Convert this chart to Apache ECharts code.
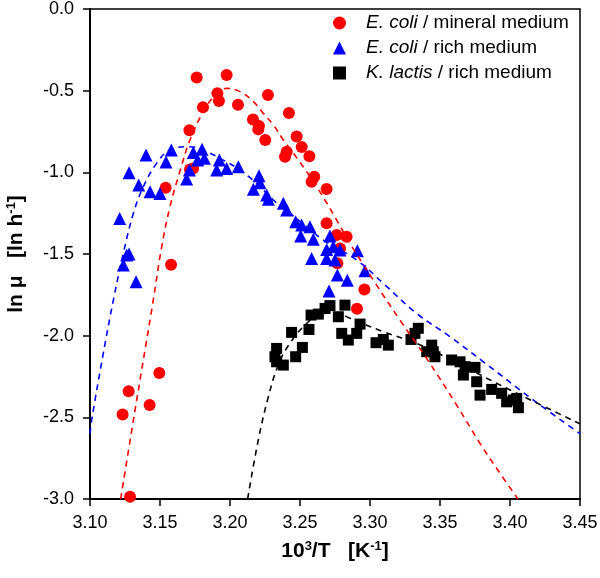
<!DOCTYPE html>
<html>
<head>
<meta charset="utf-8">
<script src="https://cdn.jsdelivr.net/npm/echarts@6/dist/echarts.min.js"></script>
<style>html,body{margin:0;padding:0;background:#fff}#c{width:600px;height:578px}</style>
</head>
<body>
<div id="c"></div>
<script>
// ---- data ----
const xTicks = [3.10, 3.15, 3.20, 3.25, 3.30, 3.35, 3.40, 3.45];
const yTicks = [0.0, -0.5, -1.0, -1.5, -2.0, -2.5, -3.0];

const ecoliMineral = [
  [3.1286,-2.986],[3.1233,-2.482],[3.1276,-2.341],[3.1426,-2.425],[3.1495,-2.229],
  [3.1579,-1.566],[3.1540,-1.094],[3.1714,-0.983],[3.1736,-0.976],[3.1710,-0.743],
  [3.1807,-0.602],[3.1762,-0.420],[3.1976,-0.404],[3.1910,-0.516],[3.1921,-0.563],
  [3.2057,-0.586],[3.2271,-0.527],[3.2164,-0.676],[3.2207,-0.716],[3.2202,-0.737],
  [3.2252,-0.802],[3.2421,-0.637],[3.2476,-0.780],[3.2512,-0.845],[3.2405,-0.874],
  [3.2393,-0.904],[3.2567,-0.902],[3.2602,-1.027],[3.2583,-1.057],[3.2690,-1.102],
  [3.2690,-1.312],[3.2762,-1.384],[3.2833,-1.394],[3.2786,-1.466],[3.2767,-1.557],
  [3.2960,-1.717],[3.2907,-1.835]
];
const ecoliRich = [
  [3.1212,-1.282],[3.1262,-1.506],[3.1279,-1.500],[3.1238,-1.568],[3.1329,-1.670],
  [3.1279,-1.002],[3.1348,-1.078],[3.1400,-0.894],[3.1429,-1.119],[3.1500,-1.129],
  [3.1543,-0.937],[3.1581,-0.863],[3.1690,-1.041],[3.1710,-0.986],[3.1738,-0.878],
  [3.1800,-0.859],[3.1769,-0.925],[3.1817,-0.914],[3.1924,-0.925],[3.1905,-0.986],
  [3.1976,-0.976],[3.2060,-0.966],[3.2207,-1.021],[3.2214,-1.064],[3.2167,-1.104],
  [3.2262,-1.139],[3.2274,-1.165],[3.2381,-1.190],[3.2405,-1.231],[3.2469,-1.302],
  [3.2512,-1.323],[3.2571,-1.333],[3.2505,-1.390],[3.2595,-1.410],[3.2714,-1.390],
  [3.2690,-1.472],[3.2738,-1.456],[3.2786,-1.476],[3.2583,-1.527],[3.2690,-1.527],
  [3.2750,-1.537],[3.2910,-1.480],[3.2964,-1.603],[3.2767,-1.629],[3.2838,-1.660],
  [3.2707,-1.726]
];
const klactisRich = [
  [3.2333,-2.078],[3.2321,-2.129],[3.2333,-2.160],[3.2381,-2.180],[3.2469,-2.129],
  [3.2517,-2.072],[3.2440,-1.980],[3.2564,-1.962],[3.2579,-1.874],[3.2631,-1.868],
  [3.2679,-1.833],[3.2714,-1.816],[3.2821,-1.813],[3.2774,-1.884],[3.2929,-1.929],
  [3.2905,-1.986],[3.2845,-2.027],[3.2798,-1.986],[3.3043,-2.043],[3.3095,-2.023],
  [3.3131,-2.058],[3.3345,-1.955],[3.3321,-1.986],[3.3293,-2.023],[3.3441,-2.058],
  [3.3452,-2.098],[3.3405,-2.098],[3.3464,-2.129],[3.3583,-2.149],[3.3643,-2.160],
  [3.3679,-2.190],[3.3750,-2.194],[3.3667,-2.241],[3.3762,-2.282],[3.3786,-2.364],
  [3.3869,-2.329],[3.3940,-2.353],[3.3976,-2.405],[3.4048,-2.384],[3.4060,-2.441],
  [3.4024,-2.394]
];

const fitMineral = [
  [3.1219,-3.0],[3.1310,-2.517],[3.1381,-2.149],[3.1452,-1.782],[3.1512,-1.456],
  [3.1571,-1.211],[3.1638,-1.006],[3.1714,-0.802],[3.1810,-0.629],[3.1905,-0.516],
  [3.1976,-0.486],[3.2071,-0.506],[3.2167,-0.567],[3.2238,-0.639],[3.2310,-0.710],
  [3.2381,-0.802],[3.2476,-0.910],[3.2619,-1.088],[3.2762,-1.292],[3.2857,-1.435],
  [3.3024,-1.660],[3.3214,-1.905],[3.3405,-2.140],[3.3619,-2.425],[3.3786,-2.660],
  [3.3929,-2.843],[3.4057,-3.0]
];
const fitRich = [
  [3.1000,-2.600],[3.1012,-2.517],[3.1095,-2.108],[3.1167,-1.782],[3.1238,-1.496],
  [3.1310,-1.251],[3.1381,-1.088],[3.1476,-0.945],[3.1571,-0.863],[3.1714,-0.843],
  [3.1833,-0.874],[3.1952,-0.925],[3.2071,-0.986],[3.2190,-1.067],[3.2310,-1.170],
  [3.2429,-1.251],[3.2548,-1.333],[3.2667,-1.415],[3.2905,-1.537],[3.3095,-1.680],
  [3.3333,-1.864],[3.3571,-2.006],[3.3810,-2.160],[3.4167,-2.394],[3.4500,-2.600]
];
const fitLactis = [
  [3.2126,-3.0],[3.2202,-2.639],[3.2274,-2.374],[3.2340,-2.190],[3.2417,-2.060],
  [3.2548,-1.925],[3.2667,-1.864],[3.2760,-1.860],[3.2857,-1.894],[3.3095,-1.976],
  [3.3333,-2.047],[3.3571,-2.144],[3.3929,-2.302],[3.4500,-2.540]
];

const seriesNames = ['E. coli / mineral medium', 'E. coli / rich medium', 'K. lactis / rich medium'];
const legendLabels = {
  'E. coli / mineral medium': '{i|E. coli} / mineral medium',
  'E. coli / rich medium': '{i|E. coli} / rich medium',
  'K. lactis / rich medium': '{i|K. lactis} / rich medium'
};

// ---- chart ----
const chart = echarts.init(document.getElementById('c'));
const FONT = 'Liberation Sans, Arial, sans-serif';
const dashed = (color, data) => ({
  type: 'line', data, smooth: 0.4, showSymbol: false, symbol: 'none', silent: true,
  lineStyle: {color, width: 1.6, type: [6, 5]}, z: 5, clip: true
});
chart.setOption({
  animation: false,
  backgroundColor: '#fff',
  grid: {left: 90, right: 20, top: 9, bottom: 79, containLabel: false, outerBoundsMode: 'none',
    show: true, borderColor: '#000', borderWidth: 1.5},
  legend: {
    data: [
      {name: seriesNames[0], icon: 'circle'},
      {name: seriesNames[1], icon: 'triangle'},
      {name: seriesNames[2], icon: 'rect'}
    ],
    orient: 'vertical', left: 333, top: 13, padding: 0, itemGap: 5, itemWidth: 13, itemHeight: 13,
    formatter: n => legendLabels[n],
    textStyle: {fontFamily: FONT, fontSize: 19, lineHeight: 20, color: '#000', padding: [0, 0, 0, 15],
      rich: {i: {fontFamily: FONT, fontSize: 19, lineHeight: 20, fontStyle: 'italic', color: '#000'}}}
  },
  xAxis: {
    type: 'value', min: 3.10, max: 3.45, interval: 0.05,
    axisLine: {show: true, onZero: false, lineStyle: {color: '#000', width: 2}},
    axisTick: {show: true, inside: false, length: 7, lineStyle: {color: '#000', width: 1.5}},
    splitLine: {show: false},
    axisLabel: {fontFamily: FONT, fontSize: 18, color: '#000', margin: 15,
      formatter: v => v.toFixed(2)},
    name: '{b|10}{s|3}{b|/T   [K}{s|-1}{b|]}',
    nameLocation: 'middle', nameGap: 41,
    nameTextStyle: {fontFamily: FONT, fontWeight: 'bold', fontSize: 21, color: '#000',
      rich: {b: {fontFamily: FONT, fontWeight: 'bold', fontSize: 21, color: '#000'},
             s: {fontFamily: FONT, fontWeight: 'bold', fontSize: 13, color: '#000', padding: [0, 0, 10, 0]}}}
  },
  yAxis: {
    type: 'value', min: -3, max: 0, interval: 0.5,
    axisLine: {show: true, onZero: false, lineStyle: {color: '#000', width: 2}},
    axisTick: {show: true, inside: false, length: 7, lineStyle: {color: '#000', width: 1.5}},
    splitLine: {show: false},
    axisLabel: {fontFamily: FONT, fontSize: 18, color: '#000', margin: 16,
      formatter: v => v.toFixed(1)},
    name: '{b|ln μ   [ln h}{s|-1}{b|]}',
    nameLocation: 'middle', nameGap: 62, nameRotate: 90,
    nameTextStyle: {fontFamily: FONT, fontWeight: 'bold', fontSize: 21, color: '#000',
      rich: {b: {fontFamily: FONT, fontWeight: 'bold', fontSize: 21, color: '#000'},
             s: {fontFamily: FONT, fontWeight: 'bold', fontSize: 13, color: '#000', padding: [0, 0, 10, 0]}}}
  },
  series: [
    {name: seriesNames[0], type: 'scatter', symbol: 'circle', symbolSize: 12, data: ecoliMineral,
     itemStyle: {color: '#ff0000', opacity: 1}, z: 3},
    {name: seriesNames[1], type: 'scatter', symbol: 'triangle', symbolSize: 13, data: ecoliRich,
     itemStyle: {color: '#0000ff', opacity: 1}, z: 3},
    {name: seriesNames[2], type: 'scatter', symbol: 'rect', symbolSize: 11, data: klactisRich,
     itemStyle: {color: '#000000', opacity: 1}, z: 3},
    dashed('#ff0000', fitMineral),
    dashed('#0000ff', fitRich),
    dashed('#000000', fitLactis)
  ]
});
</script>
</body>
</html>
